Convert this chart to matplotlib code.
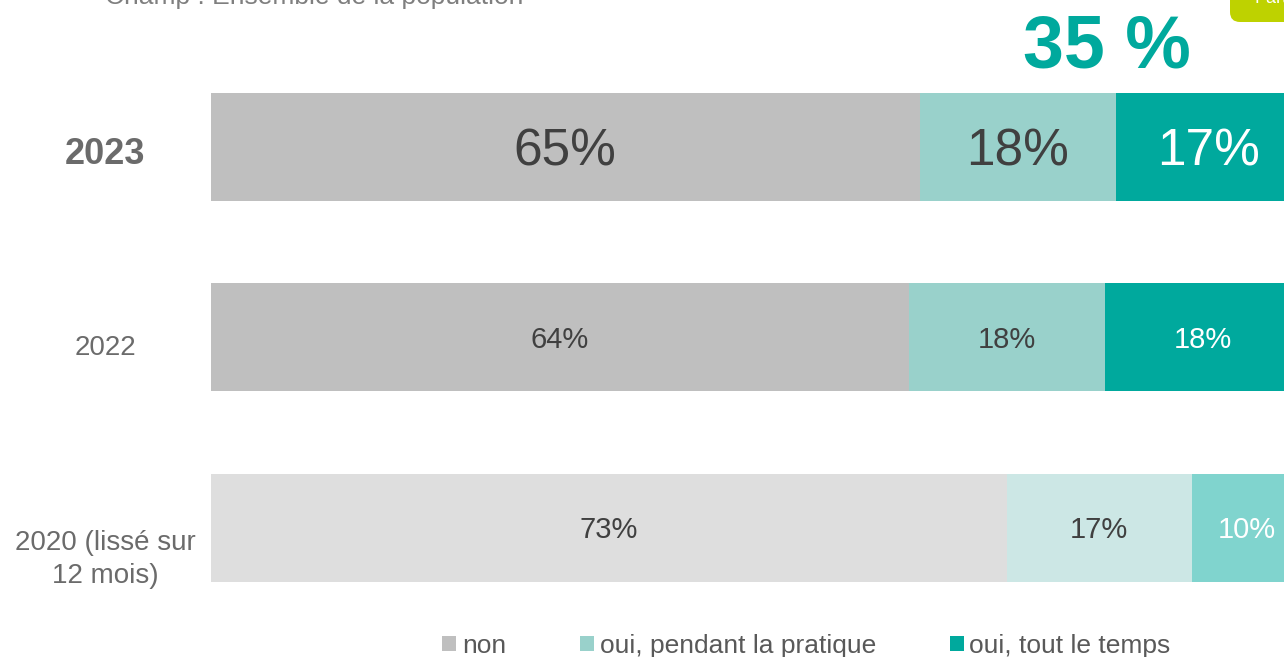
import numpy as np
import matplotlib.pyplot as plt
import matplotlib.transforms as mtransforms
from matplotlib.patches import Patch, FancyBboxPatch

plt.rcParams['font.family'] = ['Liberation Sans', 'DejaVu Sans']

annees = ['2023', '2022', '2020 (lissé sur\n12 mois)']
non = [65, 64, 73]
oui_pratique = [18, 18, 17]
oui_temps = [17, 18, 10]
total_oui = '35 %'
categories = ['non', 'oui, pendant la pratique', 'oui, tout le temps']

# couleurs : 2023/2022 pleines, 2020 atténuées
couleurs = [['#BFBFBF', '#99D1CB', '#00A99D'],
            ['#BFBFBF', '#99D1CB', '#00A99D'],
            ['#DEDEDE', '#CCE7E5', '#80D4CE']]
coul_txt = ['#404040', '#404040', 'white']
taille_txt = [37, 21, 21]

fig = plt.figure(figsize=(12.84, 6.57), dpi=100)
ax = fig.add_axes([211/1284, 0.0514, 1090/1284, 0.8699])
px_par_unite = 190.5  # hauteur d'une rangée en pixels

y = np.arange(len(annees))
series = [non, oui_pratique, oui_temps]
for i in range(len(annees)):
    gauche = 0
    # ligne de base décalée pour centrer les chiffres sur la barre
    dy = 0.358 * taille_txt[i] * 100 / 72 / px_par_unite
    for j, s in enumerate(series):
        ax.barh(y[i], s[i], left=gauche, height=0.567, color=couleurs[i][j], linewidth=0)
        ax.text(gauche + s[i]/2, y[i] + dy, f'{s[i]}%', ha='center', va='baseline',
                fontsize=taille_txt[i], color=coul_txt[j])
        gauche += s[i]

ax.set_xlim(0, 100)
ax.set_ylim(len(annees) - 0.5, -0.5)
ax.set_xticks([])
ax.set_yticks([])
for sp in ax.spines.values():
    sp.set_visible(False)

# libellés des années
trans = mtransforms.blended_transform_factory(fig.transFigure, ax.transData)
decal = [0.042, 0.055, 0.165]
tailles = [26, 20, 20]
graisses = ['bold', 'normal', 'normal']
for i, a in enumerate(annees):
    ax.text(105/1284, y[i] + decal[i], a, transform=trans, ha='center', va='center',
            multialignment='center', fontsize=tailles[i], fontweight=graisses[i],
            color='#6B6B6B', linespacing=1.35)

# total des "oui"
fig.text(1107/1284, 1 - 48/657, total_oui, ha='center', va='center',
         fontsize=53, fontweight='bold', color='#00A99D')

# champ
fig.text(105/1284, 1 - 4/657, 'Champ : Ensemble de la population', ha='left',
         va='baseline', fontsize=19, color='#7F7F7F')

# étiquette verte en haut à droite
boite = FancyBboxPatch((12.40, 6.45), 1.0, 1.0, boxstyle='round,pad=0.1,rounding_size=0.1',
                       transform=fig.dpi_scale_trans, facecolor='#BED200', edgecolor='none')
fig.patches.append(boite)
fig.text(1255/1284, 1 - 3/657, 'Part', ha='left', va='baseline', fontsize=13, color='white')

poignees = [Patch(facecolor=c, edgecolor='none') for c in couleurs[0]]
fig.legend(poignees, categories, loc='center', bbox_to_anchor=(0.628, 0.017), ncol=3,
           frameon=False, fontsize=19, handlelength=0.55, handleheight=0.55,
           handletextpad=0.2, columnspacing=2.8, borderpad=0, labelcolor='#595959')

fig.savefig('out.png', dpi=100)
